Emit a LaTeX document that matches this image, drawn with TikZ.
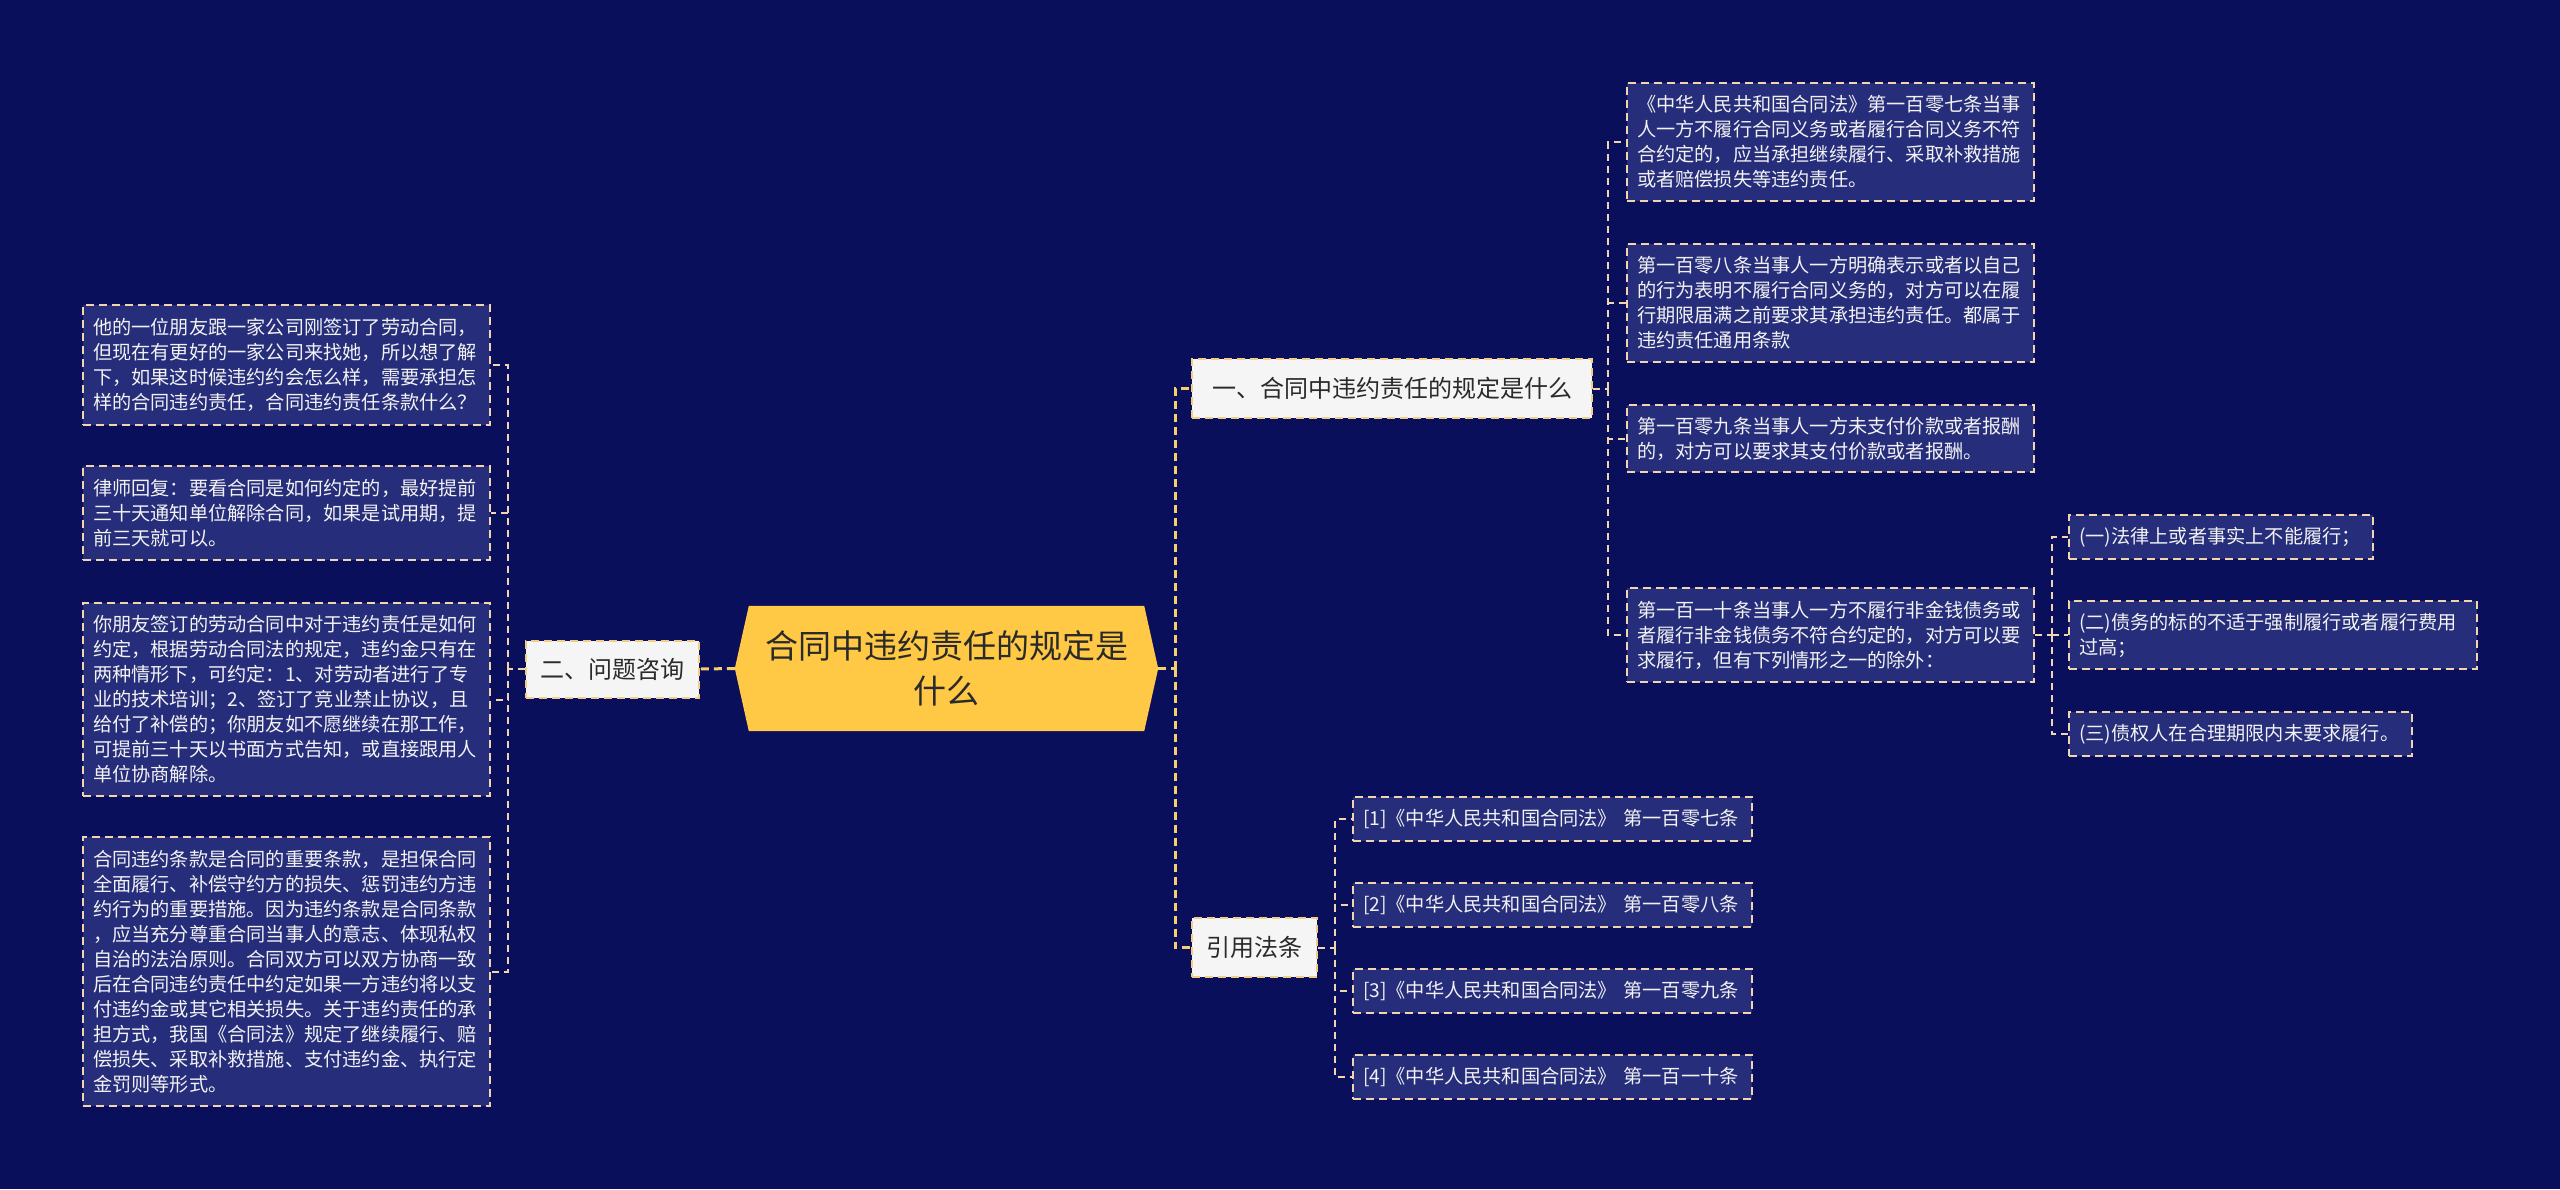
\documentclass[tikz,border=0pt]{standalone}
\usepackage{fontspec}
\setmainfont{Noto Sans CJK SC}
\usetikzlibrary{backgrounds}
\definecolor{bgc}{HTML}{0A0F5C}
\definecolor{leaffill}{HTML}{262E7B}
\definecolor{leafline}{HTML}{F2D5AC}
\definecolor{trunkc}{HTML}{F6CE6C}
\definecolor{rootc}{HTML}{FFC845}
\definecolor{lvlfill}{HTML}{F5F5F5}
\definecolor{lvlline}{HTML}{F2CD86}
\definecolor{txtdark}{HTML}{2A2A2A}
\definecolor{txtlight}{HTML}{F2F2F2}
\tikzset{
 leaf/.style={draw=leafline, fill=leaffill, line width=1.8pt, dash pattern=on 8pt off 5pt, text=txtlight, font=\fontsize{19.2}{25}\selectfont, align=left, inner sep=0pt},
 lvl/.style={draw=lvlline, fill=lvlfill, line width=2pt, dash pattern=on 8pt off 5pt, text=txtdark, font=\fontsize{24}{30}\selectfont, inner sep=0pt},
 trunk/.style={draw=trunkc, line width=3pt, dash pattern=on 8pt off 5pt},
 branch/.style={draw=leafline, line width=2pt, dash pattern=on 7pt off 5pt},
}
\begin{document}
\begin{tikzpicture}[x=1pt,y=-1pt]
\useasboundingbox (0,0) rectangle (2560,1189);
% root
\node[text=txtdark, font=\fontsize{33}{45}\selectfont, align=center, text width=400pt, minimum width=423pt, minimum height=125pt, inner sep=0pt] (root) at (946.5,668.5) {合同中违约责任的规定是\\什么};
% level 1
\node[lvl, minimum width=173pt, minimum height=57pt] (q) at (612.5,669) {二、问题咨询};
\node[lvl, minimum width=400pt, minimum height=59pt] (a) at (1392,388.5) {一、合同中违约责任的规定是什么};
\node[lvl, minimum width=125pt, minimum height=59pt] (c) at (1254.5,947.5) {引用法条};
% left leaves
\node[leaf, minimum width=407pt, minimum height=120pt, text width=387pt] (L1) at (286.5,365) {他的一位朋友跟一家公司刚签订了劳动合同，\\但现在有更好的一家公司来找她，所以想了解\\下，如果这时候违约约会怎么样，需要承担怎\\样的合同违约责任，合同违约责任条款什么？};
\node[leaf, minimum width=407pt, minimum height=94pt, text width=387pt] (L2) at (286.5,513) {律师回复：要看合同是如何约定的，最好提前\\三十天通知单位解除合同，如果是试用期，提\\前三天就可以。};
\node[leaf, minimum width=407pt, minimum height=193pt, text width=387pt] (L3) at (286.5,699.5) {你朋友签订的劳动合同中对于违约责任是如何\\约定，根据劳动合同法的规定，违约金只有在\\两种情形下，可约定：1、对劳动者进行了专\\业的技术培训；2、签订了竞业禁止协议，且\\给付了补偿的；你朋友如不愿继续在那工作，\\可提前三十天以书面方式告知，或直接跟用人\\单位协商解除。};
\node[leaf, minimum width=407pt, minimum height=269pt, text width=387pt] (L4) at (286.5,971.5) {合同违约条款是合同的重要条款，是担保合同\\全面履行、补偿守约方的损失、惩罚违约方违\\约行为的重要措施。因为违约条款是合同条款\\，应当充分尊重合同当事人的意志、体现私权\\自治的法治原则。合同双方可以双方协商一致\\后在合同违约责任中约定如果一方违约将以支\\付违约金或其它相关损失。关于违约责任的承\\担方式，我国《合同法》规定了继续履行、赔\\偿损失、采取补救措施、支付违约金、执行定\\金罚则等形式。};
% right leaves
\node[leaf, minimum width=407pt, minimum height=118pt, text width=387pt] (R1) at (1830.5,142) {《中华人民共和国合同法》第一百零七条当事\\人一方不履行合同义务或者履行合同义务不符\\合约定的，应当承担继续履行、采取补救措施\\或者赔偿损失等违约责任。};
\node[leaf, minimum width=407pt, minimum height=118pt, text width=387pt] (R2) at (1830.5,303) {第一百零八条当事人一方明确表示或者以自己\\的行为表明不履行合同义务的，对方可以在履\\行期限届满之前要求其承担违约责任。都属于\\违约责任通用条款};
\node[leaf, minimum width=407pt, minimum height=67pt, text width=387pt] (R3) at (1830.5,438.5) {第一百零九条当事人一方未支付价款或者报酬\\的，对方可以要求其支付价款或者报酬。};
\node[leaf, minimum width=407pt, minimum height=94pt, text width=387pt] (R4) at (1830.5,635) {第一百一十条当事人一方不履行非金钱债务或\\者履行非金钱债务不符合约定的，对方可以要\\求履行，但有下列情形之一的除外：};
\node[leaf, minimum width=304pt, minimum height=44pt, text width=284pt] (S1) at (2221,537) {(一)法律上或者事实上不能履行；};
\node[leaf, minimum width=408pt, minimum height=68pt, text width=388pt] (S2) at (2273,635) {(二)债务的标的不适于强制履行或者履行费用\\过高；};
\node[leaf, minimum width=343pt, minimum height=44pt, text width=323pt] (S3) at (2240.5,734) {(三)债权人在合理期限内未要求履行。};
% citations
\node[leaf, minimum width=399pt, minimum height=44pt, text width=379pt] (C1) at (1552.5,819) {[1]《中华人民共和国合同法》 第一百零七条};
\node[leaf, minimum width=399pt, minimum height=44pt, text width=379pt] (C2) at (1552.5,905) {[2]《中华人民共和国合同法》 第一百零八条};
\node[leaf, minimum width=399pt, minimum height=44pt, text width=379pt] (C3) at (1552.5,991) {[3]《中华人民共和国合同法》 第一百零九条};
\node[leaf, minimum width=399pt, minimum height=44pt, text width=379pt] (C4) at (1552.5,1077) {[4]《中华人民共和国合同法》 第一百一十条};
% bus coordinates
\coordinate (rb) at (1175,668.5);
\coordinate (lb) at (508,669);
\coordinate (ab) at (1608,388.5);
\coordinate (sb) at (2052,635);
\coordinate (cb) at (1335,947.5);
% connectors
\draw[trunk] (root.west) -- (q.east);
\draw[trunk] (root.east) -- (rb);
\draw[trunk] (rb) |- (a.west);
\draw[trunk] (rb) |- (c.west);
\draw[branch] (q.west) -- (lb);
\draw[branch] (lb) |- (L1.east);
\draw[branch] (lb) |- (L2.east);
\draw[branch] (lb) |- (L3.east);
\draw[branch] (lb) |- (L4.east);
\draw[branch] (a.east) -- (ab);
\draw[branch] (ab) |- (R1.west);
\draw[branch] (ab) |- (R2.west);
\draw[branch] (ab) |- (R3.west);
\draw[branch] (ab) |- (R4.west);
\draw[branch] (R4.east) -- (sb);
\draw[branch] (sb) |- (S1.west);
\draw[branch] (sb) -- (S2.west);
\draw[branch] (sb) |- (S3.west);
\draw[branch] (c.east) -- (cb);
\draw[branch] (cb) |- (C1.west);
\draw[branch] (cb) |- (C2.west);
\draw[branch] (cb) |- (C3.west);
\draw[branch] (cb) |- (C4.west);
\begin{scope}[on background layer]
\fill[bgc] (0,0) rectangle (2560,1189);
\fill[rootc] (root.west) -- ([xshift=14pt]root.north west) -- ([xshift=-14pt]root.north east) -- (root.east) -- ([xshift=-14pt]root.south east) -- ([xshift=14pt]root.south west) -- cycle;
\end{scope}
\end{tikzpicture}
\end{document}
